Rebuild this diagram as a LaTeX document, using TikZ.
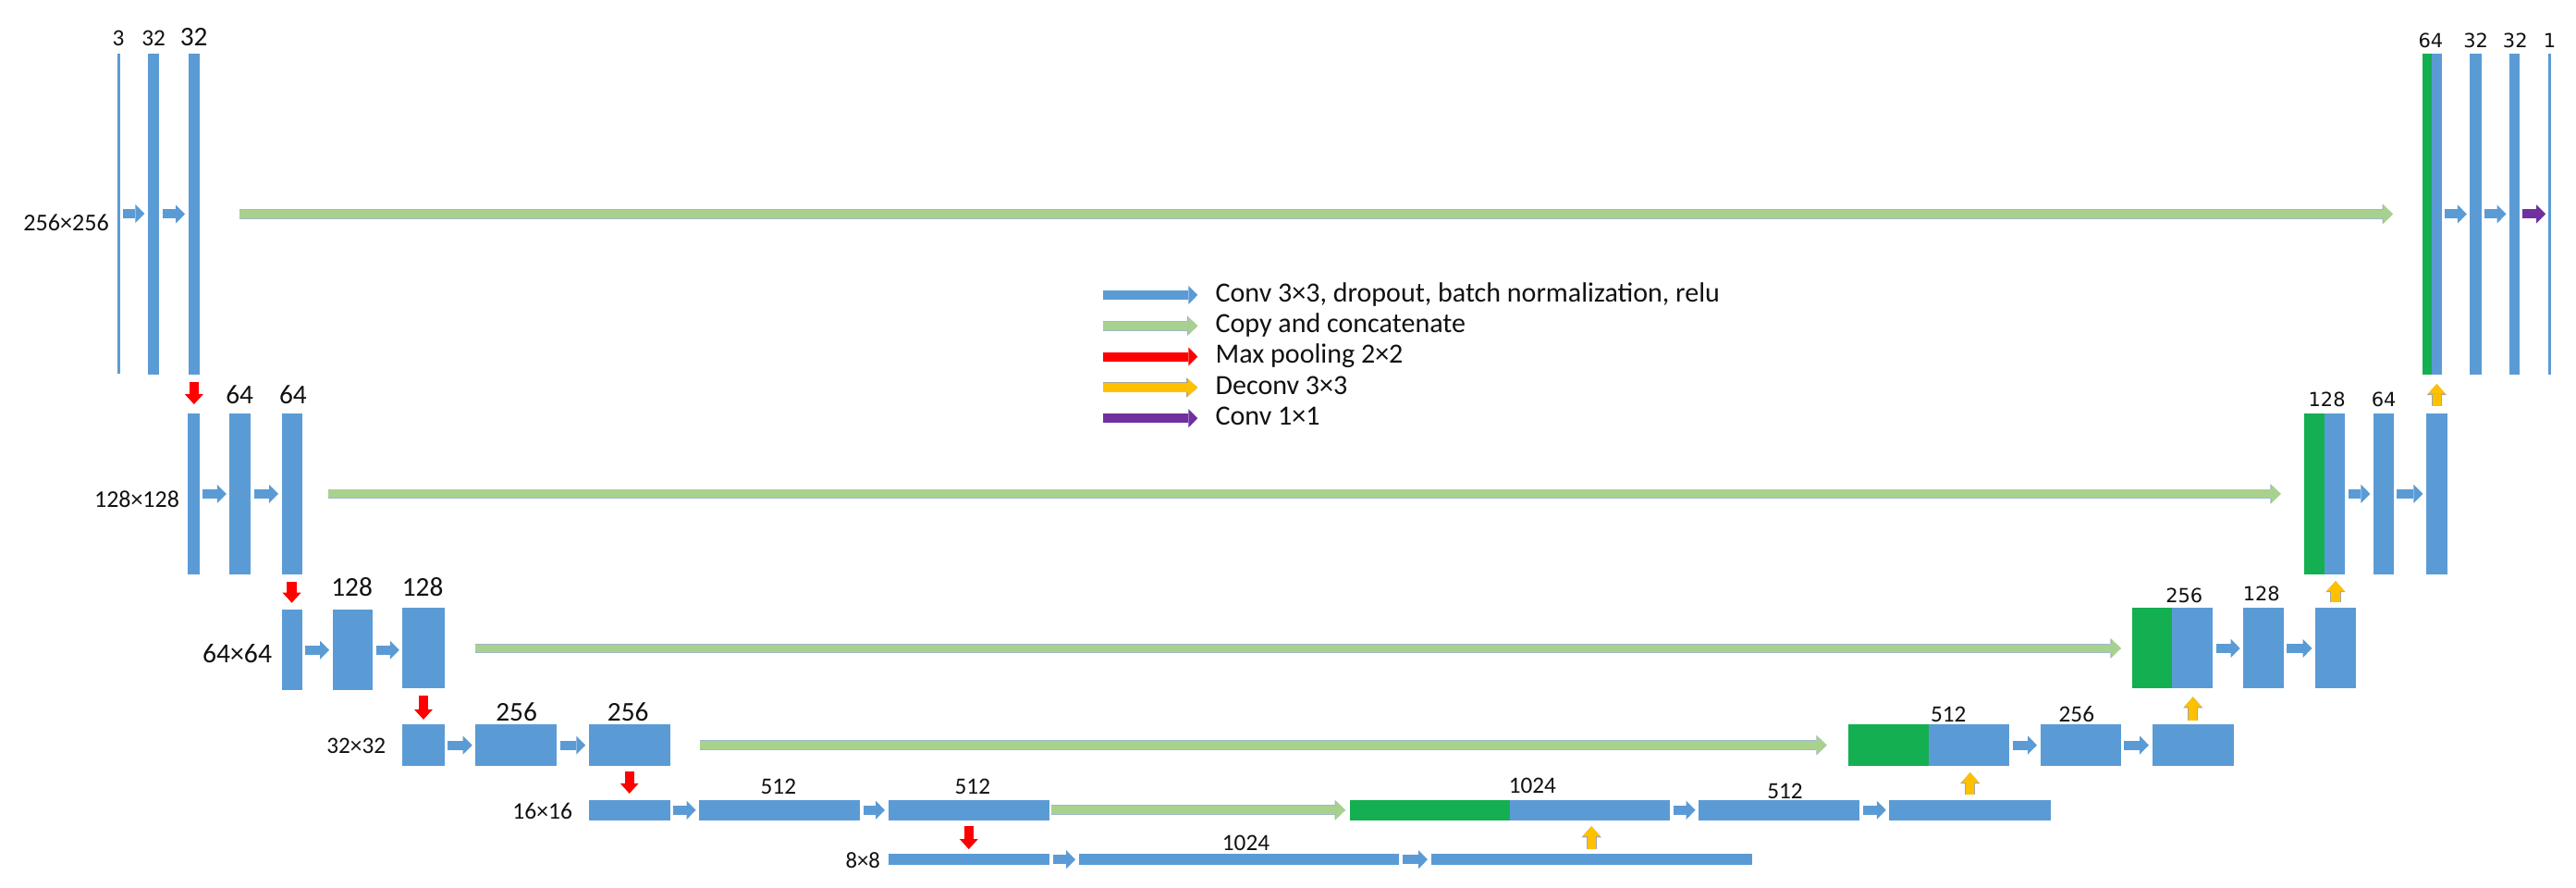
\documentclass[tikz,border=0pt]{standalone}
\usepackage{fontspec}
\setmainfont{Carlito}
\newfontfamily\dvs{DejaVu Sans}
\usetikzlibrary{arrows.meta,fit}
\definecolor{cblue}{HTML}{5B9BD5}
\definecolor{cgreen}{HTML}{14AF50}
\definecolor{lgreen}{HTML}{A9D18E}
\definecolor{goutl}{HTML}{9DB8C8}
\definecolor{cred}{HTML}{FF0000}
\definecolor{cyel}{HTML}{FFC000}
\definecolor{youtl}{HTML}{A5A5A5}
\definecolor{cpur}{HTML}{7030A0}
\definecolor{txt}{HTML}{111111}
\tikzset{
  bar/.style={fill=cblue, draw=none, inner sep=0pt, outer sep=0pt},
  catg/.style={fill=cgreen, draw=none, inner sep=0pt, outer sep=0pt},
  convarrow/.style={draw=cblue, line width=5.6pt, -{Triangle[width=11.3pt,length=5.6pt,line width=0pt]}},
  onearrow/.style={draw=cpur, line width=5.6pt, -{Triangle[width=11.3pt,length=5.6pt,line width=0pt]}},
  copyarrow/.style={draw=lgreen, line width=5pt, -{Triangle[width=10.8pt,length=5.6pt,line width=0pt]},
     preaction={draw=goutl, line width=6pt, -{Triangle[width=12.3pt,length=6.4pt,line width=0pt]}}},
  poolarrow/.style={draw=cred, line width=5.8pt, -{Triangle[width=11.3pt,length=6.2pt,line width=0pt]}},
  deconvarrow/.style={draw=cyel, line width=5.2pt, -{Triangle[width=10.6pt,length=6pt,line width=0pt]},
     preaction={draw=youtl, line width=6.2pt, -{Triangle[width=12pt,length=6.8pt,line width=0pt]}}},
  lab/.style={text=txt, inner sep=0pt, anchor=base},
  fsmall/.style={font=\fontsize{14.2}{16}\selectfont},
  flarge/.style={font=\fontsize{16.5}{19}\selectfont},
  fdv/.style={font=\dvs\fontsize{11.8}{14}\selectfont},
  legtext/.style={text=txt, inner sep=0pt, anchor=base west, font=\fontsize{16.9}{19}\selectfont},
}
\begin{document}
\begin{tikzpicture}[x=1pt,y=-1pt]
\useasboundingbox (0,0) rectangle (1568,540);
% ---------- encoder ----------
\node[bar, fit={(71.2,32.5)(73,227.5)}] (in0) {};
\node[bar, fit={(90,32.5)(97,228)}] (c1a) {};
\node[bar, fit={(114.6,32.5)(121.6,228)}] (c1b) {};
\node[bar, fit={(114.3,251.5)(121.5,349.5)}] (d2a) {};
\node[bar, fit={(139.8,251.5)(152.8,349.5)}] (d2b) {};
\node[bar, fit={(171.4,251.5)(183.8,349.5)}] (d2c) {};
\node[bar, fit={(171.4,371)(183.8,420)}] (d3a) {};
\node[bar, fit={(202.4,371)(226.8,420)}] (d3b) {};
\node[bar, fit={(245,370)(270.5,419)}] (d3c) {};
\node[bar, fit={(245,440.8)(270.5,466)}] (d4a) {};
\node[bar, fit={(289.4,440.8)(338.8,466)}] (d4b) {};
\node[bar, fit={(358.4,440.8)(407.8,466)}] (d4c) {};
\node[bar, fit={(358.4,486.8)(407.8,499)}] (d5a) {};
\node[bar, fit={(425.6,486.8)(523.4,499)}] (d5b) {};
\node[bar, fit={(540.6,486.8)(638.8,499)}] (d5c) {};
\node[bar, fit={(540.6,519.7)(638.8,526.2)}] (d6a) {};
\node[bar, fit={(656.6,519.7)(851.6,526.2)}] (d6b) {};
\node[bar, fit={(871,519.7)(1066.4,526.2)}] (u6) {};
% ---------- decoder ----------
\node[catg, fit={(821.9,486.8)(918.8,499)}] (u5g) {};
\node[bar, fit={(918.8,486.8)(1016.7,499)}] (u5a) {};
\node[bar, fit={(1034,486.8)(1132,499)}] (u5b) {};
\node[bar, fit={(1150,486.8)(1248.4,499)}] (u5c) {};
\node[catg, fit={(1124.9,440.8)(1173.9,466)}] (u4g) {};
\node[bar, fit={(1173.9,440.8)(1223,466)}] (u4a) {};
\node[bar, fit={(1241.9,440.8)(1291,466)}] (u4b) {};
\node[bar, fit={(1310,440.8)(1359.7,466)}] (u4c) {};
\node[catg, fit={(1297.7,370)(1322,419)}] (u3g) {};
\node[bar, fit={(1322,370)(1346.8,419)}] (u3a) {};
\node[bar, fit={(1365.5,370)(1390,419)}] (u3b) {};
\node[bar, fit={(1409.3,370)(1434,419)}] (u3c) {};
\node[catg, fit={(1402.3,251.5)(1415,349.5)}] (u2g) {};
\node[bar, fit={(1415,251.5)(1427.3,349.5)}] (u2a) {};
\node[bar, fit={(1444.7,251.5)(1457,349.5)}] (u2b) {};
\node[bar, fit={(1476.8,251.5)(1489.6,349.5)}] (u2c) {};
\node[catg, fit={(1474.6,32.5)(1480.2,228)}] (u1g) {};
\node[bar, fit={(1480.2,32.5)(1486.3,228)}] (u1a) {};
\node[bar, fit={(1503.5,32.5)(1510.5,228)}] (u1b) {};
\node[bar, fit={(1527.5,32.5)(1533.7,228)}] (u1c) {};
\node[bar, fit={(1551.2,32.5)(1553,228)}] (out) {};
% ---------- conv arrows ----------
\foreach \a/\b in {in0/c1a,c1a/c1b,d2a/d2b,d2b/d2c,d3a/d3b,d3b/d3c,d4a/d4b,d4b/d4c,
  d5a/d5b,d5b/d5c,d6a/d6b,d6b/u6,u5a/u5b,u5b/u5c,u4a/u4b,u4b/u4c,u3a/u3b,u3b/u3c,
  u2a/u2b,u2b/u2c,u1a/u1b,u1b/u1c}
  \draw[convarrow] ([xshift=2pt]\a.east) -- ([xshift=-2pt]\a.east -| \b.west);
\draw[onearrow] ([xshift=1.7pt]u1c.east) -- ([xshift=-1.7pt]u1c.east -| out.west);
% ---------- copy arrows ----------
\draw[copyarrow] ([xshift=24.1pt]c1b.east) -- ([xshift=-18pt]c1b.east -| u1g.west);
\draw[copyarrow] ([xshift=15.8pt]d2c.east) -- ([xshift=-14pt]d2c.east -| u2g.west);
\draw[copyarrow] ([xshift=19pt]d3c.east) -- ([xshift=-6.7pt]d3c.east -| u3g.west);
\draw[copyarrow] ([xshift=18pt]d4c.east) -- ([xshift=-13pt]d4c.east -| u4g.west);
\draw[copyarrow] ([xshift=1pt]d5c.east) -- ([xshift=-3pt]d5c.east -| u5g.west);
% ---------- pooling arrows ----------
\draw[poolarrow] ([yshift=-4.4pt]c1b.south) -- ([yshift=5.5pt]c1b.south |- d2a.north);
\draw[poolarrow] ([yshift=-4.3pt]d2c.south) -- ([yshift=4.2pt]d2c.south |- d3a.north);
\draw[poolarrow] ([yshift=-4pt]d3c.south) -- ([yshift=3pt]d3c.south |- d4a.north);
\draw[poolarrow] ([yshift=-3.4pt]d4c.south) -- ([yshift=4pt]d4c.south |- d5a.north);
\draw[poolarrow] ([yshift=-3.7pt]d5c.south) -- ([yshift=3pt]d5c.south |- d6a.north);
% ---------- deconv arrows ----------
\draw[deconvarrow] ([yshift=3pt]u6.north) -- ([yshift=-3.7pt]u6.north |- u5a.south);
\draw[deconvarrow] ([yshift=3.3pt]u5c.north) -- ([yshift=-4pt]u5c.north |- u4a.south);
\draw[deconvarrow] ([yshift=2.3pt]u4c.north) -- ([yshift=-5pt]u4c.north |- u3a.south);
\draw[deconvarrow] ([yshift=3.4pt]u3c.north) -- ([yshift=-4pt]u3c.north |- u2a.south);
\draw[deconvarrow] ([yshift=4.5pt]u2c.north) -- ([yshift=-5.6pt]u2c.north |- u1a.south);
% ---------- channel labels ----------
\node[lab, fsmall] (t1) at (72,28) {3};
\node[lab, fsmall] (t2) at (93.5,28) {32};
\node[lab, flarge] (t3) at (118,28) {32};
\node[lab, flarge] (t4) at (145.9,245.8) {64};
\node[lab, flarge] (t5) at (178.4,245.8) {64};
\node[lab, flarge] (t6) at (214.2,362.8) {128};
\node[lab, flarge] (t7) at (257.3,362.8) {128};
\node[lab, flarge] (t8) at (314.4,438.6) {256};
\node[lab, flarge] (t9) at (382.3,438.6) {256};
\node[lab, fsmall] (t10) at (473.8,483) {512};
\node[lab, fsmall] (t11) at (592,483) {512};
\node[lab, fsmall] (t12) at (758.4,517.4) {1024};
\node[lab, fsmall] (t13) at (932.8,482.5) {1024};
\node[lab, fsmall] (t14) at (1086.5,486) {512};
\node[lab, fsmall] (t15) at (1186,439) {512};
\node[lab, fsmall] (t16) at (1264,439) {256};
\node[lab, fdv] (t17) at (1329.5,366.8) {256};
\node[lab, fdv] (t18) at (1376.5,365.4) {128};
\node[lab, fdv] (t19) at (1416.4,247.5) {128};
\node[lab, fdv] (t20) at (1451,247.5) {64};
\node[lab, fdv] (t21) at (1479.6,29.2) {64};
\node[lab, fdv] (t22) at (1507,29.2) {32};
\node[lab, fdv] (t23) at (1531,29.2) {32};
\node[lab, fdv] (t24) at (1552,29.2) {1};
% ---------- size labels ----------
\node[lab, font=\fontsize{14.7}{17}\selectfont] (s1) at (40.3,140.7) {256×256};
\node[lab, font=\fontsize{14.6}{17}\selectfont] (s2) at (83.3,308.5) {128×128};
\node[lab, font=\fontsize{16.7}{19}\selectfont] (s3) at (144.4,403.5) {64×64};
\node[lab, font=\fontsize{14.2}{17}\selectfont] (s4) at (216.8,458.3) {32×32};
\node[lab, font=\fontsize{14.4}{17}\selectfont] (s5) at (330.2,498.5) {16×16};
\node[lab, font=\fontsize{13.9}{16}\selectfont] (s6) at (525.2,528) {8×8};
% ---------- legend ----------
\coordinate (l1s) at (671.6,179.5); \coordinate (l1e) at (729,179.5);
\coordinate (l2s) at (671.6,198.3); \coordinate (l2e) at (729,198.3);
\coordinate (l3s) at (671.6,217);   \coordinate (l3e) at (729,217);
\coordinate (l4s) at (671.6,235.8); \coordinate (l4e) at (729,235.8);
\coordinate (l5s) at (671.6,254.5); \coordinate (l5e) at (729,254.5);
\draw[convarrow] (l1s) -- (l1e);
\draw[copyarrow] (l2s) -- (l2e);
\draw[poolarrow, line width=5.6pt, -{Triangle[width=11.3pt,length=5.6pt,line width=0pt]}] (l3s) -- (l3e);
\draw[deconvarrow] (l4s) -- (l4e);
\draw[onearrow] (l5s) -- (l5e);
\node[legtext] (g1) at (739.7,183.5) {Conv 3×3, dropout, batch normalization, relu};
\node[legtext] (g2) at (739.7,202.3) {Copy and concatenate};
\node[legtext] (g3) at (739.7,221) {Max pooling 2×2};
\node[legtext] (g4) at (739.7,239.8) {Deconv 3×3};
\node[legtext] (g5) at (739.7,258.5) {Conv 1×1};
\end{tikzpicture}
\end{document}
